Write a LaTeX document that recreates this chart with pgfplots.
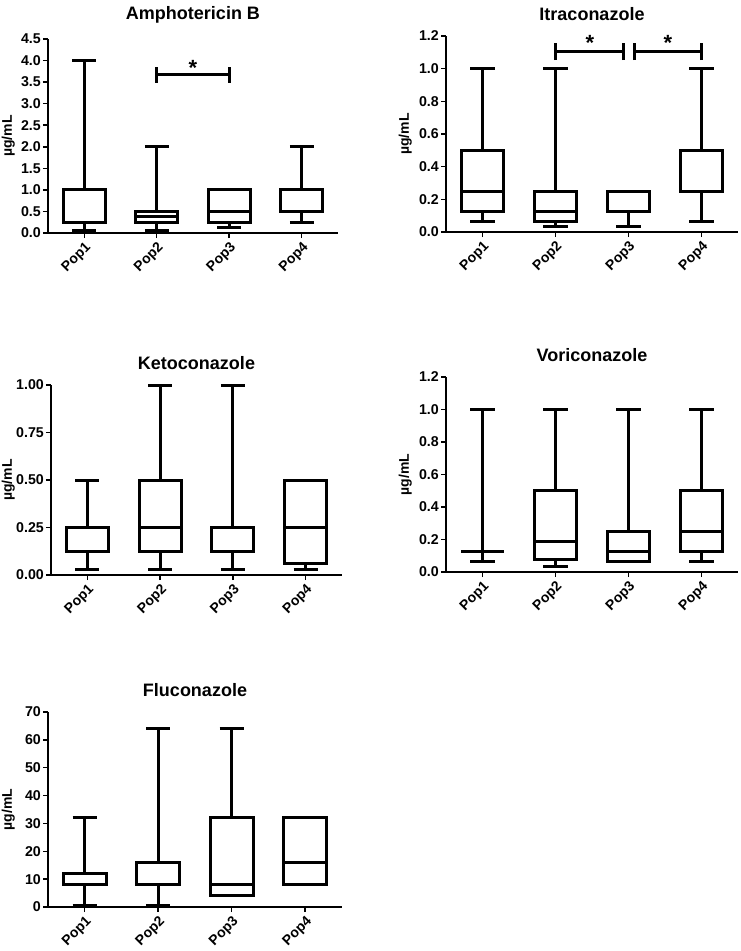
\documentclass[border=0pt]{standalone}
\usepackage{fontspec}
\setmainfont{Liberation Sans}
\usepackage{pgfplots}
\pgfplotsset{compat=1.18}
\usepgfplotslibrary{statistics}

\pgfplotsset{
  panel/.style={
    scale only axis, width=292pt, height=195pt,
    axis lines=left, axis line style={line width=2pt, -},
    xmin=0.5, xmax=4.5, ymin=0,
    xtick={1,2,3,4}, xticklabels={Pop1,Pop2,Pop3,Pop4},
    xticklabel style={rotate=45, anchor=north east, inner sep=2pt, font=\fontsize{14}{16}\selectfont\bfseries},
    yticklabel style={font=\fontsize{14.2}{16}\selectfont\bfseries, inner sep=2pt},
    /pgf/number format/assume math mode=true,
    tick style={line width=1.5pt, black},
    tick align=outside,
    major tick length=5pt,
    ylabel={µg/mL}, ylabel style={font=\fontsize{14}{16}\selectfont\bfseries, anchor=south, inner sep=0pt},
    title style={font=\fontsize{18}{20}\selectfont\bfseries, yshift=6pt},
    boxplot/draw direction=y,
    boxplot/box extend=0.58,
    boxplot/whisker extend=0.33,
    clip=false,
  },
  ylab/.style={ylabel style={at={(axis description cs:#1,0.5)}}},
  bx/.style={black, solid, line width=3pt},
}

\begin{document}
\begin{tikzpicture}
\useasboundingbox (0pt,0pt) rectangle (740pt,-951pt);

% Amphotericin B
\begin{axis}[panel, at={(48pt,-233pt)}, anchor=south west, width=290pt, height=194pt,
  ylab=-0.114,
  title={Amphotericin B}, ymax=4.5, ytick={0,0.5,...,4.5},
  yticklabel style={/pgf/number format/.cd, fixed, fixed zerofill, precision=1}]
\addplot[bx, boxplot prepared={draw position=1, lower whisker=0.0625, lower quartile=0.25, median=0.25, upper quartile=1, upper whisker=4}] coordinates {};
\addplot[bx, boxplot prepared={draw position=2, lower whisker=0.0625, lower quartile=0.25, median=0.375, upper quartile=0.5, upper whisker=2}] coordinates {};
\addplot[bx, boxplot prepared={draw position=3, lower whisker=0.125, lower quartile=0.25, median=0.5, upper quartile=1, upper whisker=1}] coordinates {};
\addplot[bx, boxplot prepared={draw position=4, lower whisker=0.25, lower quartile=0.5, median=0.5, upper quartile=1, upper whisker=2}] coordinates {};
\addplot[bx] coordinates {(2,3.67) (3,3.67)};
\addplot[bx] coordinates {(2,3.48) (2,3.86)};
\addplot[bx] coordinates {(3,3.48) (3,3.86)};
\node[anchor=north, inner sep=0pt, font=\fontsize{22}{22}\selectfont\bfseries] at (axis cs:2.5,4.01) {*};
\end{axis}

% Itraconazole
\begin{axis}[panel, at={(446pt,-232pt)}, anchor=south west, height=196pt,
  ylab=-0.1164,
  title={Itraconazole}, ymax=1.2, ytick={0,0.2,...,1.2},
  yticklabel style={/pgf/number format/.cd, fixed, fixed zerofill, precision=1}]
\addplot[bx, boxplot prepared={draw position=1, lower whisker=0.0625, lower quartile=0.125, median=0.25, upper quartile=0.5, upper whisker=1}] coordinates {};
\addplot[bx, boxplot prepared={draw position=2, lower whisker=0.03125, lower quartile=0.0625, median=0.125, upper quartile=0.25, upper whisker=1}] coordinates {};
\addplot[bx, boxplot prepared={draw position=3, lower whisker=0.03125, lower quartile=0.125, median=0.125, upper quartile=0.25, upper whisker=0.25}] coordinates {};
\addplot[bx, boxplot prepared={draw position=4, lower whisker=0.0625, lower quartile=0.25, median=0.25, upper quartile=0.5, upper whisker=1}] coordinates {};
\addplot[bx] coordinates {(2,1.108) (2.93,1.108)};
\addplot[bx] coordinates {(2,1.053) (2,1.159)};
\addplot[bx] coordinates {(2.93,1.053) (2.93,1.159)};
\addplot[bx] coordinates {(3.08,1.108) (4,1.108)};
\addplot[bx] coordinates {(3.08,1.053) (3.08,1.159)};
\addplot[bx] coordinates {(4,1.053) (4,1.159)};
\node[anchor=north, inner sep=0pt, font=\fontsize{22}{22}\selectfont\bfseries] at (axis cs:2.47,1.206) {*};
\node[anchor=north, inner sep=0pt, font=\fontsize{22}{22}\selectfont\bfseries] at (axis cs:3.54,1.206) {*};
\end{axis}

% Ketoconazole
\begin{axis}[panel, at={(51pt,-575pt)}, anchor=south west, width=291pt, height=190pt,
  ylab=-0.1237,
  title={Ketoconazole}, ymax=1.0, ytick={0,0.25,0.5,0.75,1},
  yticklabel style={/pgf/number format/.cd, fixed, fixed zerofill, precision=2}]
\addplot[bx, boxplot prepared={draw position=1, lower whisker=0.03125, lower quartile=0.125, median=0.125, upper quartile=0.25, upper whisker=0.5}] coordinates {};
\addplot[bx, boxplot prepared={draw position=2, lower whisker=0.03125, lower quartile=0.125, median=0.25, upper quartile=0.5, upper whisker=1}] coordinates {};
\addplot[bx, boxplot prepared={draw position=3, lower whisker=0.03125, lower quartile=0.125, median=0.125, upper quartile=0.25, upper whisker=1}] coordinates {};
\addplot[bx, boxplot prepared={draw position=4, lower whisker=0.03125, lower quartile=0.0625, median=0.25, upper quartile=0.5, upper whisker=0.5}] coordinates {};
\end{axis}

% Voriconazole
\begin{axis}[panel, at={(446pt,-572pt)}, anchor=south west, height=195pt,
  ylab=-0.1164,
  title={Voriconazole}, ymax=1.2, ytick={0,0.2,...,1.2},
  yticklabel style={/pgf/number format/.cd, fixed, fixed zerofill, precision=1}]
\addplot[bx, boxplot prepared={draw position=1, lower whisker=0.0625, lower quartile=0.125, median=0.125, upper quartile=0.125, upper whisker=1}] coordinates {};
\addplot[bx, boxplot prepared={draw position=2, lower whisker=0.03125, lower quartile=0.078, median=0.1875, upper quartile=0.5, upper whisker=1}] coordinates {};
\addplot[bx, boxplot prepared={draw position=3, lower whisker=0.0625, lower quartile=0.0625, median=0.125, upper quartile=0.25, upper whisker=1}] coordinates {};
\addplot[bx, boxplot prepared={draw position=4, lower whisker=0.0625, lower quartile=0.125, median=0.25, upper quartile=0.5, upper whisker=1}] coordinates {};
\end{axis}

% Fluconazole
\begin{axis}[panel, at={(48pt,-907pt)}, anchor=south west, width=294pt, height=195pt,
  ylab=-0.112,
  title={Fluconazole}, ymax=70, ytick={0,10,...,70}]
\addplot[bx, boxplot prepared={draw position=1, lower whisker=0.5, lower quartile=8, median=8, upper quartile=12, upper whisker=32}] coordinates {};
\addplot[bx, boxplot prepared={draw position=2, lower whisker=0.5, lower quartile=8, median=8, upper quartile=16, upper whisker=64}] coordinates {};
\addplot[bx, boxplot prepared={draw position=3, lower whisker=4, lower quartile=4, median=8, upper quartile=32, upper whisker=64}] coordinates {};
\addplot[bx, boxplot prepared={draw position=4, lower whisker=8, lower quartile=8, median=16, upper quartile=32, upper whisker=32}] coordinates {};
\end{axis}
\end{tikzpicture}
\end{document}
